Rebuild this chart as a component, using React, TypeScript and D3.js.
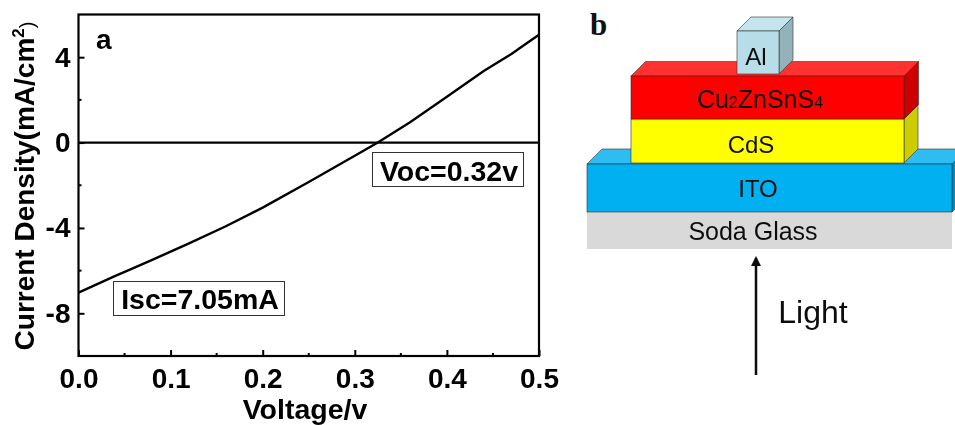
import React, { useEffect, useRef } from "react";
import * as d3 from "d3";

// J-V curve
const voltage = [0, 0.04, 0.08, 0.12, 0.16, 0.2, 0.25, 0.3, 0.325, 0.36, 0.4, 0.44, 0.47, 0.5];
const current = [-7.03, -6.25, -5.5, -4.72, -3.92, -3.05, -1.85, -0.62, 0, 0.95, 2.15, 3.35, 4.15, 5.05];
const zeroLine = [0, 0.5];
const xMajor = [0, 0.1, 0.2, 0.3, 0.4, 0.5];
const xMinor = [0.05, 0.15, 0.25, 0.35, 0.45];
const yMajor = [4, 0, -4, -8];
const yMinor = [2, -2, -6];

const layerNames = ["Soda Glass", "ITO", "CdS", "Al"];
const layerFills = ["#d9d9d9", "#00b0f0", "#ffff00", "#b7dee8"];

const W = 955;
const H = 425;
const plot = { left: 78.5, right: 539, top: 14.5, bottom: 356 };
const FONT = "'Liberation Sans', Arial, sans-serif";

const x = d3.scaleLinear().domain([0, 0.5]).range([plot.left, plot.right]);
const y = d3.scaleLinear().domain([-10, 6]).range([plot.bottom, plot.top]);

// draws a box with a top face and a side face, like the powerpoint 3d shapes
function Slab({ x0, x1, y0, y1, d, front, top, side }: any) {
  const path = d3.path();
  path.moveTo(x0, y0);
  path.lineTo(x0 + d, y0 - d);
  path.lineTo(x1 + d, y0 - d);
  path.lineTo(x1, y0);
  path.closePath();
  const sidePath = d3.path();
  sidePath.moveTo(x1, y0);
  sidePath.lineTo(x1 + d, y0 - d);
  sidePath.lineTo(x1 + d, y1 - d);
  sidePath.lineTo(x1, y1);
  sidePath.closePath();
  return (
    <g stroke="#333" strokeWidth={0.6}>
      <path d={path.toString()} fill={top} />
      <path d={sidePath.toString()} fill={side} />
      <rect x={x0} y={y0} width={x1 - x0} height={y1 - y0} fill={front} />
    </g>
  );
}

function Label({ x: lx, y: ly, size = 24, children }: any) {
  return (
    <text x={lx} y={ly} textAnchor="middle" fontFamily={FONT} fontSize={size} fill="#111">
      {children}
    </text>
  );
}

export default function App() {
  const xRef = useRef<SVGGElement>(null);
  const yRef = useRef<SVGGElement>(null);

  useEffect(() => {
    const xg = d3.select(xRef.current);
    xg.selectAll("*").remove();
    xg.call(d3.axisBottom(x).tickValues(xMajor).tickSize(-6).tickPadding(12).tickFormat(d3.format(".1f")) as any);
    xg.selectAll(".m")
      .data(xMinor)
      .join("line")
      .attr("class", "m")
      .attr("x1", (d) => x(d))
      .attr("x2", (d) => x(d))
      .attr("y1", 0)
      .attr("y2", -3);

    const yg = d3.select(yRef.current);
    yg.selectAll("*").remove();
    yg.call(d3.axisLeft(y).tickValues(yMajor).tickSize(-6).tickPadding(8).tickFormat(d3.format("d")) as any);
    yg.selectAll(".m")
      .data(yMinor)
      .join("line")
      .attr("class", "m")
      .attr("x1", 0)
      .attr("x2", 3)
      .attr("y1", (d) => y(d))
      .attr("y2", (d) => y(d));

    [xg, yg].forEach((g) => {
      g.selectAll("path.domain").remove();
      g.selectAll("line").attr("stroke", "#000").attr("stroke-width", 2);
      g.selectAll("text")
        .attr("font-family", FONT)
        .attr("font-weight", "bold")
        .attr("font-size", 28)
        .attr("fill", "#000");
    });
    // the minus in the picture is a short hyphen
    yg.selectAll("text").text((d: any) => String(d));
  }, []);

  const line = d3
    .line<number>()
    .x((d) => x(d))
    .y((_, i) => y(current[i]));

  return (
    <svg
      width={W}
      height={H}
      viewBox={`0 0 ${W} ${H}`}
      style={{ position: "absolute", left: 0, top: 0, background: "#fff" }}
    >
      <defs>
        <filter id="soft" x="-5%" y="-5%" width="110%" height="110%">
          <feGaussianBlur stdDeviation="0.45" />
        </filter>
        <filter id="softer" x="-5%" y="-5%" width="110%" height="110%">
          <feGaussianBlur stdDeviation="0.3" />
        </filter>
        <marker id="head" viewBox="0 0 10 10" refX="8" refY="5" markerWidth="4" markerHeight="4" orient="auto">
          <path d="M0,0 L10,5 L0,10 Z" fill="#111" />
        </marker>
      </defs>

      {/* panel a */}
      <g filter="url(#softer)">
        <rect
          x={plot.left}
          y={plot.top}
          width={plot.right - plot.left}
          height={plot.bottom - plot.top}
          fill="none"
          stroke="#000"
          strokeWidth={2.2}
        />
        <g ref={xRef} transform={`translate(0,${plot.bottom})`} />
        <g ref={yRef} transform={`translate(${plot.left},0)`} />
        <line x1={x(zeroLine[0])} x2={x(zeroLine[1])} y1={y(0)} y2={y(0)} stroke="#000" strokeWidth={2.2} />
        <path d={line(voltage) ?? ""} fill="none" stroke="#000" strokeWidth={2.4} />

        <text x={96} y={49} fontFamily={FONT} fontWeight="bold" fontSize={28}>a</text>

        <text
          transform={`translate(34,186) rotate(-90)`}
          textAnchor="middle"
          fontFamily={FONT}
          fontWeight="bold"
          fontSize={28}
        >
          Current Density(mA/cm
          <tspan fontSize={17} dy={-10}>2</tspan>
          <tspan dy={10} fontWeight="normal" fontSize={20}>)</tspan>
        </text>
        <text x={305} y={419} textAnchor="middle" fontFamily={FONT} fontWeight="bold" fontSize={28.5}>
          Voltage/v
        </text>

        <rect x={113.5} y={281.5} width={171} height={34} fill="#fff" stroke="#333" strokeWidth={1} />
        <text x={200} y={309} textAnchor="middle" fontFamily={FONT} fontWeight="bold" fontSize={28.5}>
          Isc=7.05mA
        </text>
        <rect x={372.5} y={152.5} width={151} height={34} fill="#fff" stroke="#333" strokeWidth={1} />
        <text x={449} y={181} textAnchor="middle" fontFamily={FONT} fontWeight="bold" fontSize={28.5}>
          Voc=0.32v
        </text>
      </g>

      {/* panel b */}
      <text x={590} y={35} fontFamily="'Liberation Serif', serif" fontWeight="bold" fontSize={31} fill="#111">b</text>
      <g filter="url(#soft)">
        <rect x={587} y={212} width={365} height={37} fill={layerFills[0]} />
        <Slab x0={587} x1={952} y0={164} y1={212} d={15} front={layerFills[1]} top="#2fbdf2" side="#008dc0" />
        <Slab x0={631} x1={904} y0={119} y1={163} d={14} front={layerFills[2]} top="#ffff33" side="#cccc00" />
        <Slab x0={631} x1={904} y0={76} y1={119} d={14.5} front="#ff0000" top="#ff3333" side="#cc0000" />
        <Slab x0={737} x1={779} y0={31} y1={74} d={14} front={layerFills[3]} top="#c5e5ed" side="#93b2ba" />

        <Label x={756} y={65}>{layerNames[3]}</Label>
        <Label x={760} y={108} size={25}>
          Cu<tspan fontSize={16}>2</tspan>ZnSnS<tspan fontSize={16}>4</tspan>
        </Label>
        <Label x={751} y={153}>{layerNames[2]}</Label>
        <Label x={758} y={197}>{layerNames[1]}</Label>
        <Label x={753} y={240} size={25}>{layerNames[0]}</Label>

        <line x1={756} x2={756} y1={375} y2={258} stroke="#111" strokeWidth={2.5} markerEnd="url(#head)" />
        <Label x={813} y={323} size={32}>Light</Label>
      </g>
    </svg>
  );
}
